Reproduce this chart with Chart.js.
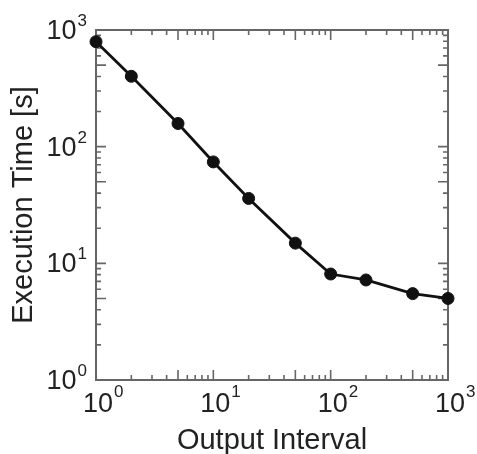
<!DOCTYPE html>
<html>
<head>
<meta charset="utf-8">
<script src="https://cdn.jsdelivr.net/npm/chart.js@4/dist/chart.umd.min.js"></script>
<style>
html,body{margin:0;padding:0;background:#fff;}
#wrap{width:477px;height:454px;}
</style>
</head>
<body>
<div id="wrap"><canvas id="c" width="477" height="454"></canvas></div>
<script>
// ---- data ----
const outputInterval = [1, 2, 5, 10, 20, 50, 100, 200, 500, 1000];
const executionTime  = [794, 401, 158, 74, 36, 14.9, 8.1, 7.2, 5.5, 5.0];
const xTickValues = [1, 10, 100, 1000];
const xTickExponents = ['0', '1', '2', '3'];
const yTickValues = [1, 10, 100, 1000];
const yTickExponents = ['0', '1', '2', '3'];
const xTitle = 'Output Interval';
const yTitle = 'Execution Time [s]';

const FONT = '"Liberation Sans", Arial, sans-serif';
const TEXT = '#222';
const FRAME = '#666';

function minorValues(min, max) {
  const out = [];
  for (let e = Math.log10(min); e < Math.log10(max); e++) {
    for (let m = 1; m <= 9; m++) out.push({v: m * Math.pow(10, e), m});
  }
  out.push({v: max, m: 1});
  return out;
}

const framePlugin = {
  id: 'frameTicks',
  beforeDatasetsDraw(chart) {
    const {ctx, chartArea: a} = chart;
    const xs = chart.scales.x, ys = chart.scales.y;
    ctx.save();
    ctx.strokeStyle = FRAME;
    ctx.lineWidth = 2;
    ctx.strokeRect(a.left, a.top, a.right - a.left, a.bottom - a.top);
    ctx.lineWidth = 1.6;
    ctx.beginPath();
    for (const t of minorValues(1, 1000)) {
      const len = (t.m === 1 || t.m === 5) ? 10 : 5;
      const px = xs.getPixelForValue(t.v);
      ctx.moveTo(px, a.bottom); ctx.lineTo(px, a.bottom - len);
      ctx.moveTo(px, a.top); ctx.lineTo(px, a.top + len);
      const py = ys.getPixelForValue(t.v);
      ctx.moveTo(a.left, py); ctx.lineTo(a.left + len, py);
      ctx.moveTo(a.right, py); ctx.lineTo(a.right - len, py);
    }
    ctx.stroke();

    // tick labels with superscript exponents
    ctx.fillStyle = TEXT;
    ctx.textBaseline = 'alphabetic';
    const big = '27px ' + FONT, small = '17px ' + FONT;
    xTickValues.forEach((v, i) => {
      const px = xs.getPixelForValue(v);
      ctx.font = big;
      ctx.textAlign = 'center';
      ctx.fillText('10', px + 2, a.bottom + 32);
      const w = ctx.measureText('10').width;
      ctx.font = small;
      ctx.textAlign = 'left';
      ctx.fillText(xTickExponents[i], px + 2 + w / 2 + 1, a.bottom + 17);
    });
    yTickValues.forEach((v, i) => {
      const py = ys.getPixelForValue(v);
      ctx.font = small;
      ctx.textAlign = 'right';
      ctx.fillText(yTickExponents[i], a.left - 9, py - 4);
      const ew = ctx.measureText(yTickExponents[i]).width;
      ctx.font = big;
      ctx.fillText('10', a.left - 9 - ew - 1, py + 9);
    });
    ctx.restore();
  }
};

new Chart(document.getElementById('c'), {
  type: 'scatter',
  data: {
    datasets: [{
      data: outputInterval.map((x, i) => ({x, y: executionTime[i]})),
      showLine: true,
      clip: false,
      borderColor: '#111',
      backgroundColor: '#111',
      borderWidth: 2.8,
      pointRadius: 6,
      pointBorderWidth: 1,
      pointHoverRadius: 6,
      tension: 0
    }]
  },
  options: {
    responsive: false,
    animation: false,
    devicePixelRatio: 1,
    layout: {padding: {top: 30, right: 29, left: 0, bottom: 0}},
    plugins: {legend: {display: false}, tooltip: {enabled: false}},
    scales: {
      x: {
        type: 'logarithmic', min: 1, max: 1000,
        grid: {display: false}, border: {display: false},
        ticks: {display: false},
        title: {display: true, text: xTitle, color: TEXT,
                font: {family: FONT, size: 29, lineHeight: 1}, padding: {top: 0, bottom: -1}},
        afterFit(s) { s.height = 74; }
      },
      y: {
        type: 'logarithmic', min: 1, max: 1000,
        grid: {display: false}, border: {display: false},
        ticks: {display: false},
        title: {display: true, text: yTitle, color: TEXT,
                font: {family: FONT, size: 29, lineHeight: 1}, padding: {top: 9, bottom: 0}},
        afterFit(s) { s.width = 96; }
      }
    }
  },
  plugins: [framePlugin]
});
</script>
</body>
</html>
